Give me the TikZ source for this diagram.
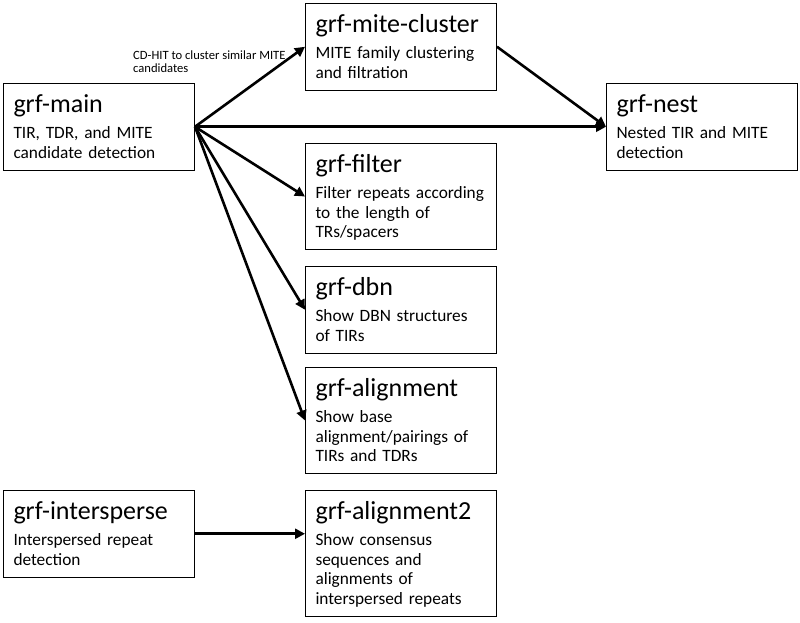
\documentclass[tikz,border=0pt]{standalone}
\usepackage{fontspec}
\setmainfont{Carlito}
\usetikzlibrary{arrows.meta}
\newcommand\ttl{\fontsize{26}{30}\selectfont}
\newcommand\bdy{\fontsize{17.3}{19.5}\selectfont}
\newcommand\blk[2]{{\ttl\rule{0pt}{21pt}#1}\\[6.5pt]#2\rule[-4pt]{0pt}{4pt}}
\begin{document}
\begin{tikzpicture}[x=1pt,y=-1pt,blk/.style={draw,line width=1pt,anchor=north west,text width=171pt,inner xsep=10pt,inner ysep=8pt,align=left,font=\bdy},link/.style={line width=2.6pt,-{Triangle[length=10pt,width=10pt]}},note/.style={anchor=north west,inner sep=0pt,align=left,font=\fontsize{12.6}{13}\selectfont}]
\def\xa{3};
\def\xb{305};
\def\xc{606};

\useasboundingbox (0,0) rectangle (800,622);

\node[blk] (main) at (\xa,83) {\blk{grf-main}{TIR, TDR, and MITE\\candidate detection}};
\node[blk] (clust) at (\xb,3) {\blk{grf-mite-cluster}{MITE family clustering\\and filtration}};
\node[blk] (nest) at (\xc,83) {\blk{grf-nest}{Nested TIR and MITE\\detection}};
\node[blk] (filt) at (\xb,143) {\blk{grf-filter}{Filter repeats according\\to the length of\\TRs/spacers}};
\node[blk] (dbn) at (\xb,266) {\blk{grf-dbn}{Show DBN structures\\of TIRs}};
\node[blk] (align) at (\xb,367) {\blk{grf-alignment}{Show base\\alignment/pairings of\\TIRs and TDRs}};
\node[blk] (inter) at (\xa,490) {\blk{grf-intersperse}{Interspersed repeat\\detection}};
\node[blk] (align2) at (\xb,490) {\blk{grf-alignment2}{Show consensus\\sequences and\\alignments of\\interspersed repeats}};

\node[note] (hint) at (133,51) {CD-HIT to cluster similar MITE\\candidates};

\draw[link] (main.east) -- (clust.west);
\draw[link] (main.east) -- (nest.west);
\draw[link] (clust.east) -- (nest.west);
\draw[link] (main.east) -- (filt.west);
\draw[link] (main.east) -- (dbn.west);
\draw[link] (main.east) -- (align.west);
\draw[link] (inter.east) -- (inter.east -| align2.west);
\end{tikzpicture}
\end{document}
